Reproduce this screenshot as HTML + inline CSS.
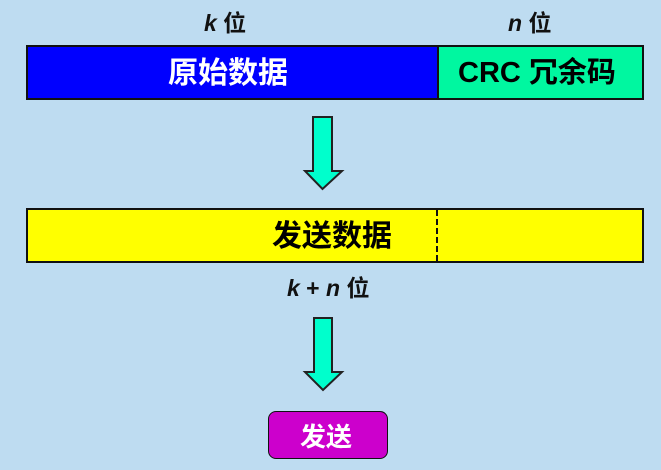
<!DOCTYPE html>
<html><head><meta charset="utf-8"><style>
body{margin:0;width:661px;height:470px;background:#bedcf1;position:relative;overflow:hidden;font-family:"Liberation Sans","Noto Sans CJK SC",sans-serif;font-weight:bold}
.t{position:absolute;white-space:nowrap;line-height:1}
.box{position:absolute;box-sizing:border-box;border:2px solid #111}
</style></head><body>
<div class="t" style="left:204px;top:12px;font-size:23px;color:#111"><i>k</i> 位</div>
<div class="t" style="left:508px;top:12px;font-size:23px;color:#111"><i>n</i> 位</div>
<div class="box" style="left:26px;top:45px;width:413px;height:55px;background:#0000ff;border-right:none"></div>
<div class="box" style="left:437px;top:45px;width:207px;height:55px;background:#00f7a0"></div>
<div class="t" style="left:168px;top:59px;font-size:30px;color:#fff">原始数据</div>
<div class="t" style="left:458px;top:59px;font-size:29px;color:#000">CRC 冗余码</div>
<div class="box" style="left:26px;top:208px;width:618px;height:55px;background:#ffff00"></div>
<div style="position:absolute;left:436px;top:210px;height:51px;border-left:2px dashed #111"></div>
<div class="t" style="left:272px;top:222px;font-size:30px;color:#000">发送数据</div>
<div class="t" style="left:287px;top:277px;font-size:23px;color:#111"><i>k</i> + <i>n</i> 位</div>
<svg style="position:absolute;left:0;top:0" width="661" height="470">
<polygon points="313,117 332,117 332,171 342,171 322.5,189 305,171 313,171" fill="#00ffcc" stroke="#222" stroke-width="2"/>
<polygon points="314,318 332,318 332,372 342,372 323,390 305,372 314,372" fill="#00ffcc" stroke="#222" stroke-width="2"/>
</svg>
<div class="box" style="left:268px;top:411px;width:120px;height:48px;background:#cc00cc;border-radius:8px;border-width:1.5px"></div>
<div class="t" style="left:300px;top:424px;font-size:26px;color:#fff">发送</div>
</body></html>
